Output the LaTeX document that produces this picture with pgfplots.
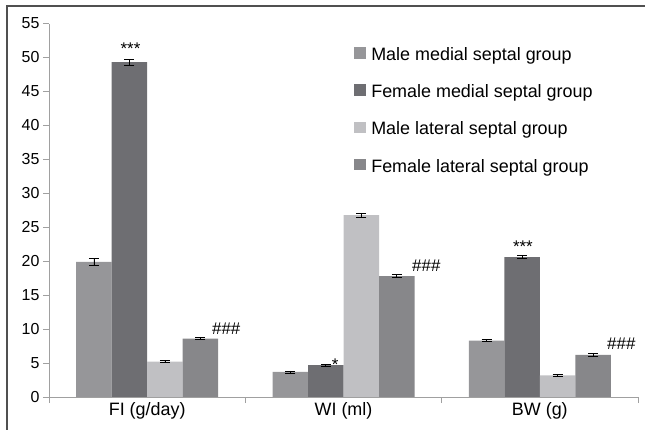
\documentclass[border=0pt]{standalone}
\usepackage{pgfplots}
\pgfplotsset{compat=1.18}
\usepackage{fontspec}
\setmainfont{Liberation Sans}
\definecolor{cA}{RGB}{150,150,153}
\definecolor{cB}{RGB}{110,110,114}
\definecolor{cC}{RGB}{192,192,195}
\definecolor{cD}{RGB}{135,135,138}
\definecolor{axisgray}{RGB}{160,160,160}
\definecolor{framegray}{RGB}{80,80,80}
\begin{document}
\begin{tikzpicture}
\useasboundingbox (0,0) rectangle (645bp,430bp);
\draw[framegray, line width=1.4bp] (7bp,-2bp) -- (7bp,424bp) -- (647bp,424bp);
\begin{axis}[
  at={(49bp,33bp)}, anchor=south west,
  scale only axis, width=589bp, height=373.5bp,
  font=\fontsize{17}{20}\selectfont,
  /pgf/number format/assume math mode=true,
  ybar=0pt, bar width=35.5bp,
  xmin=-0.5, xmax=2.5, ymin=0, ymax=55,
  ytick distance=5,
  xtick={-0.5,0.5,1.5,2.5}, xticklabels={},
  extra x ticks={0,1,2},
  extra x tick labels={FI (g/day),WI (ml),BW (g)},
  extra x tick style={major tick length=0pt, xticklabel style={font=\fontsize{18}{20}\selectfont, yshift=-2bp}},
  yticklabel style={font=\fontsize{16}{18}\selectfont},
  axis x line=bottom, axis y line=left,
  axis line style={-, axisgray, line width=0.9bp},
  tick align=outside, major tick length=6bp,
  tick style={axisgray, line width=0.9bp},
  legend cell align=left,
  legend style={at={(axis description cs:0.518,0.937)}, anchor=north west, draw=none, fill=none,
    inner sep=0pt, row sep=22.5bp, nodes={inner sep=0pt},
    /tikz/every odd column/.append style={column sep=5bp},
    font=\fontsize{18}{20}\selectfont},
  legend image code/.code={\fill[#1,draw=none] (0bp,-4bp) rectangle (12bp,7.5bp);},
  every axis plot/.append style={draw=none,
    error bars/y dir=both, error bars/y explicit,
    error bars/error mark=|,
    error bars/error bar style={black, line width=0.7bp},
    error bars/error mark options={black, mark size=5bp, line width=0.7bp}},
]
\addplot[fill=cA] coordinates {(0,19.9) +- (0,0.5) (1,3.7) +- (0,0.15) (2,8.3) +- (0,0.15)};
\addplot[fill=cB] coordinates {(0,49.3) +- (0,0.45) (1,4.7) +- (0,0.15) (2,20.6) +- (0,0.25)};
\addplot[fill=cC] coordinates {(0,5.2) +- (0,0.15) (1,26.8) +- (0,0.3) (2,3.2) +- (0,0.15)};
\addplot[fill=cD] coordinates {(0,8.6) +- (0,0.15) (1,17.8) +- (0,0.2) (2,6.2) +- (0,0.2)};
\legend{Male medial septal group,Female medial septal group,Male lateral septal group,Female lateral septal group}
\node[font=\fontsize{17}{18}\selectfont] at (axis cs:-0.085,51.3) {***};
\node[font=\fontsize{17}{18}\selectfont] at (axis cs:1.914,22.1) {***};
\node[font=\fontsize{17}{18}\selectfont] at (axis cs:0.957,4.7) {*};
\node[anchor=west, inner sep=0pt, font=\fontsize{17}{18}\selectfont] at (axis cs:0.33,10.1) {\#\#\#};
\node[anchor=west, inner sep=0pt, font=\fontsize{17}{18}\selectfont] at (axis cs:1.349,19.4) {\#\#\#};
\node[anchor=west, inner sep=0pt, font=\fontsize{17}{18}\selectfont] at (axis cs:2.342,7.9) {\#\#\#};
\end{axis}
\end{tikzpicture}
\end{document}
